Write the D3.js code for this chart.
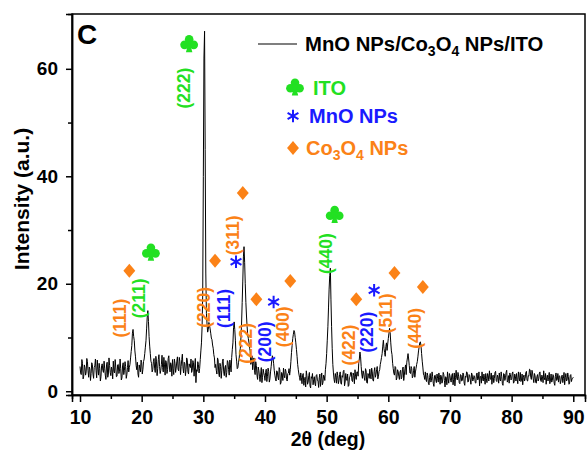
<!DOCTYPE html>
<html><head><meta charset="utf-8">
<script src="https://cdn.jsdelivr.net/npm/d3@7"></script>
<style>
html,body{margin:0;padding:0;background:#fff;}
svg{display:block;font-family:"Liberation Sans",Arial,sans-serif;font-weight:bold;}
</style></head>
<body><svg id="chart" width="588" height="451"></svg>
<script>
// ---- data ----
// readings at 10.0, 10.2, ... 90.0 (2θ, deg)
const twoThetaStart = 10, twoThetaStep = 0.2;
const intensity = [
4.6,3.1,5.2,2.8,4.4,3.6,5.5,2.6,4.1,3.3,
5.0,2.4,4.7,3.8,5.8,3.0,4.2,2.7,5.1,3.5,
4.3,2.2,5.4,3.2,4.8,2.9,4.0,5.6,3.4,4.5,
2.8,5.0,3.7,4.2,2.5,5.3,3.9,4.6,3.1,5.7,
4.4,6.2,8.5,11.5,9.4,6.4,4.0,3.2,4.9,3.6,
5.3,4.1,6.0,8.2,11.6,15.0,10.2,7.0,5.2,4.0,
6.1,3.5,5.6,4.2,6.8,3.3,5.0,4.4,6.3,3.0,
5.4,4.0,6.6,3.6,4.9,5.9,3.1,5.2,4.3,6.4,
3.8,5.5,4.6,6.9,3.4,5.1,4.0,5.8,3.2,4.7,
6.0,3.9,5.3,4.5,1.6,3.7,5.0,4.2,7.5,12.0,
40.0,67.0,22.0,12.5,11.5,12.3,10.8,9.6,8.0,6.2,
5.0,3.2,5.8,2.7,4.6,3.9,6.0,2.9,4.8,3.5,
5.4,3.0,4.7,6.3,9.0,12.9,9.5,5.6,4.4,6.0,
8.0,12.5,20.5,26.9,20.0,14.0,10.5,9.0,7.5,5.5,
4.0,6.2,3.1,4.8,2.2,3.9,1.8,4.4,2.6,3.4,
2.0,4.1,2.8,3.7,2.3,4.6,6.6,5.2,3.0,1.9,
3.6,2.1,4.0,1.6,3.2,4.3,2.5,3.7,1.9,3.4,
3.0,5.5,8.5,10.6,11.0,9.0,6.5,4.0,2.6,3.4,
1.4,3.3,2.0,0.8,2.9,1.7,3.5,0.6,2.4,1.2,
2.7,1.0,3.1,1.9,2.5,0.9,3.4,1.6,2.8,4.0,
7.0,12.0,19.0,22.9,12.0,5.0,2.2,3.3,1.5,2.9,
2.0,3.6,1.3,2.6,3.9,1.7,2.4,3.2,1.1,2.8,
3.5,1.8,2.9,4.0,2.2,3.6,5.2,7.3,4.6,2.4,
3.4,2.0,3.8,1.5,3.0,4.1,2.3,3.6,1.9,4.4,
3.1,4.6,2.8,4.0,5.6,7.0,9.5,7.2,8.3,7.6,
9.8,11.7,9.0,6.8,4.2,3.0,4.4,2.5,3.7,2.2,
3.9,2.6,4.5,3.0,4.9,5.4,7.0,4.8,3.3,4.2,
2.8,4.6,3.6,5.0,6.4,8.2,9.2,7.0,4.5,2.9,
3.6,1.8,2.9,1.2,3.3,2.0,2.7,0.9,3.0,1.6,
2.4,3.4,1.3,2.8,1.9,3.1,0.8,2.5,3.6,1.5,
2.9,1.7,3.3,2.2,1.0,3.9,2.1,2.8,1.4,3.0,
2.0,3.2,1.1,2.6,3.5,1.8,2.9,1.3,3.1,2.2,
2.7,1.5,3.4,2.3,1.0,2.8,3.6,1.9,2.5,3.3,
1.6,2.9,3.8,2.2,1.3,3.0,2.4,3.7,1.8,2.6,
3.4,1.9,2.7,1.1,3.2,2.5,3.9,2.0,1.5,3.1,
2.3,3.6,1.7,2.8,3.3,1.4,2.6,3.5,2.0,1.2,
3.0,2.4,3.7,1.9,2.8,4.0,2.2,3.4,1.6,2.9,
1.5,3.1,2.3,3.6,1.8,2.7,3.8,2.1,1.3,3.0,
2.6,1.4,3.2,2.0,2.9,1.1,3.4,2.2,1.7,2.8,
1.9,3.0,2.4,1.2,3.3,2.1,2.7,1.5,3.1,2.3,
2.6
];
// readings at 10.1, 10.3, ... 89.9 (2θ, deg)
const intensityOffset = 0.1;
const intensityMid = [
3.4,5.9,2.3,4.9,3.0,6.1,3.8,4.5,2.0,5.3,
3.2,4.4,6.0,2.5,4.1,5.2,1.9,4.8,3.9,5.6,
3.0,4.9,2.6,6.2,3.5,4.5,2.3,3.7,5.9,2.7,
4.9,3.3,6.0,2.1,4.7,3.1,5.5,2.4,4.4,3.6,
5.0,7.4,10.8,10.2,7.5,4.8,5.4,2.6,4.2,5.8,
3.2,5.5,7.0,9.4,13.8,13.0,8.4,5.6,3.6,5.5,
4.3,6.5,2.9,5.9,4.6,3.9,6.7,3.6,4.9,5.7,
3.3,6.1,4.5,5.3,2.8,4.2,6.0,3.5,5.6,4.1,
6.3,3.1,5.9,4.3,5.4,2.9,6.2,3.6,5.1,4.4,
3.5,5.7,2.8,6.1,4.0,5.5,3.4,5.9,9.0,18.0,
62.0,45.0,14.5,11.0,12.8,11.6,9.9,8.6,6.8,4.4,
3.9,6.2,3.4,5.2,2.4,5.5,3.6,4.4,2.6,5.7,
4.0,5.8,3.6,7.8,11.8,11.5,6.8,4.2,5.3,7.2,
10.0,16.5,25.0,24.0,16.5,12.0,9.8,8.0,5.0,6.6,
5.2,3.8,5.5,3.0,4.5,2.8,3.2,1.6,4.1,2.9,
3.5,1.8,4.3,1.7,3.6,5.8,6.2,3.9,2.3,3.8,
2.6,4.4,1.3,3.5,2.0,3.0,4.1,2.2,3.3,4.2,
4.0,7.2,9.8,11.3,10.0,7.8,5.0,3.2,2.0,2.5,
3.0,1.1,2.6,3.8,1.3,2.9,1.0,2.7,3.3,2.2,
1.4,2.9,2.1,0.7,3.2,2.3,1.2,3.0,2.0,5.2,
9.5,15.5,21.5,17.0,8.0,3.4,1.6,2.6,3.6,1.4,
3.1,1.5,2.9,3.7,1.0,3.3,2.0,0.9,2.6,3.5,
2.0,3.4,1.4,2.7,3.6,2.8,6.0,6.4,3.2,3.8,
2.5,4.2,1.6,3.3,2.4,2.8,4.3,2.0,3.7,2.6,
4.0,2.3,3.7,5.0,6.3,8.4,8.0,6.5,9.0,8.8,
10.8,10.9,7.5,5.2,3.3,4.6,2.1,4.0,2.8,3.6,
2.3,4.1,2.0,4.2,3.1,6.2,6.0,3.4,4.6,2.5,
3.9,2.6,4.3,5.5,7.5,9.0,8.5,5.6,3.2,2.2,
2.2,3.4,1.5,2.6,1.7,3.6,1.4,2.9,2.1,3.2,
1.7,2.6,3.0,1.5,3.5,2.0,2.7,1.2,2.3,3.3,
2.0,3.0,1.2,3.4,2.6,2.4,3.5,1.6,3.1,1.9,
3.4,1.5,2.8,3.6,1.7,3.1,2.1,3.4,1.9,2.9,
1.6,3.2,2.1,3.6,2.7,1.5,2.3,3.2,1.3,2.4,
3.3,1.9,2.4,3.4,2.6,1.6,3.5,2.0,3.0,1.5,
2.2,3.6,1.4,3.3,2.0,3.5,1.7,2.9,3.4,2.1,
3.4,1.5,3.2,1.9,2.2,3.6,1.9,1.8,3.2,2.6,
1.9,3.5,2.0,2.9,4.1,2.6,3.9,2.3,3.3,1.7,
2.7,1.9,3.4,2.0,3.0,1.6,2.5,3.3,2.5,1.9,
3.5,2.1,1.7,3.1,1.5,2.8,2.0,3.3,2.9,1.4,
2.8,1.6,3.5,2.5,1.9,3.4,1.3,2.9,1.8,2.4
];

const xTicks = [10,20,30,40,50,60,70,80,90];
const xMinorTicks = [15,25,35,45,55,65,75,85];
const yTicks = [0,20,40,60];
const yMinorTicks = [10,30,50];

// phase markers (2θ, intensity position)
const itoMarkX = [21.5, 27.7, 51.3];
const itoMarkY = [25.9, 64.7, 32.9];
const mnoMarkX = [35.3, 41.4, 57.7];
const mnoMarkY = [24.1, 16.6, 18.8];
const coMarkX = [18.0, 31.9, 36.4, 38.6, 44.1, 54.8, 61.0, 65.6];
const coMarkY = [22.4, 24.3, 36.9, 17.1, 20.5, 17.1, 22.0, 19.4];

// Miller index labels
const hklText  = ["(111)","(211)","(222)","(220)","(111)","(311)","(222)","(200)","(400)","(440)","(422)","(220)","(511)","(440)"];
const hklPhase = ["Co","ITO","ITO","Co","MnO","Co","Co","MnO","Co","ITO","Co","MnO","Co","Co"];
const hklX     = [16.5, 19.6, 26.9, 30.1, 33.3, 34.8, 36.9, 40.0, 42.9, 49.9, 53.6, 56.6, 59.6, 64.4];
const hklY     = [13.6, 17.3, 56.4, 15.6, 15.4, 29.0, 8.9, 9.2, 12.0, 25.6, 8.6, 11.0, 14.5, 11.7];

const phaseColor = {ITO:"#22e022", MnO:"#1a1aff", Co:"#fb8217"};

// ---- chart ----
const svg = d3.select("#chart");
const L = 72, R = 585, T = 14, B = 395;
const x = d3.scaleLinear().domain([8.7, 91.9]).range([L, R]);
const y = d3.scaleLinear().domain([-0.7, 70.2]).range([B, T]);

const data = [];
intensity.forEach((v,i)=>{
  data.push({t: twoThetaStart + i*twoThetaStep, v});
  if (i < intensityMid.length) data.push({t: twoThetaStart + i*twoThetaStep + intensityOffset, v: intensityMid[i]});
});

// trace
svg.append("path").datum(data)
  .attr("fill","none").attr("stroke","#000").attr("stroke-width",1)
  .attr("d", d3.line().x(d=>x(d.t)).y(d=>y(d.v)));

// frame
svg.append("rect").attr("x",L).attr("y",T).attr("width",R-L).attr("height",B-T)
  .attr("fill","none").attr("stroke","#000").attr("stroke-width",1.5);

// axes
const xAxis = svg.append("g").attr("transform",`translate(0,${B})`)
  .call(d3.axisBottom(x).tickValues(xTicks).tickSize(7).tickPadding(8).tickFormat(d3.format("d")));
const xMin = svg.append("g").attr("transform",`translate(0,${B})`)
  .call(d3.axisBottom(x).tickValues(xMinorTicks).tickSize(4).tickFormat(""));
const yAxis = svg.append("g").attr("transform",`translate(${L},0)`)
  .call(d3.axisLeft(y).tickValues(yTicks).tickSize(6).tickPadding(8).tickFormat(d3.format("d")));
const yMin = svg.append("g").attr("transform",`translate(${L},0)`)
  .call(d3.axisLeft(y).tickValues(yMinorTicks).tickSize(4).tickFormat(""));
[xAxis,xMin,yAxis,yMin].forEach(g=>{
  g.select(".domain").attr("stroke","#000").attr("stroke-width",1.5);
  g.selectAll(".tick line").attr("stroke","#000").attr("stroke-width",1.5);
  g.selectAll(".tick text").attr("fill","#000").attr("font-family","Liberation Sans, Arial, sans-serif").attr("font-weight","bold");
});
xAxis.selectAll(".tick text").attr("font-size",19.5);
yAxis.selectAll(".tick text").attr("font-size",19);

// axis titles
svg.append("text").attr("x",328).attr("y",446).attr("text-anchor","middle")
  .attr("font-size",19.5).text("2θ (deg)");
svg.append("text").attr("transform","translate(29,199) rotate(-90)").attr("text-anchor","middle")
  .attr("font-size",21).text("Intensity (a.u.)");
svg.append("text").attr("x",77).attr("y",44).attr("font-size",28).text("C");

// marker drawers
const diamondType = { draw(ctx, size){ const h=Math.sqrt(size)/2; ctx.moveTo(0,-h); ctx.lineTo(h*0.85,0); ctx.lineTo(0,h); ctx.lineTo(-h*0.85,0); ctx.closePath(); } };
function drawDiamond(g, cx, cy){
  g.append("path").attr("transform",`translate(${cx},${cy})`)
   .attr("d", d3.symbol().type(diamondType).size(196)()).attr("fill",phaseColor.Co);
}
function drawAsterisk(g, cx, cy){
  g.append("path").attr("transform",`translate(${cx},${cy})`)
   .attr("d", d3.symbol().type(d3.symbolAsterisk).size(110)())
   .attr("fill","none").attr("stroke",phaseColor.MnO).attr("stroke-width",2);
}
function drawClub(g, cx, cy){
  const c = g.append("g").attr("transform",`translate(${cx},${cy})`).attr("fill",phaseColor.ITO);
  [[0,-4.3],[-4.6,1.3],[4.6,1.3],[0,0]].forEach(p=>c.append("circle").attr("cx",p[0]).attr("cy",p[1]).attr("r",p[0]===0&&p[1]===0?2.8:4.3));
  c.append("path").attr("d","M-0.9,0 L0.9,0 L3.2,8.6 L-3.2,8.6 Z");
}

const marks = svg.append("g");
itoMarkX.forEach((t,i)=>drawClub(marks, x(t), y(itoMarkY[i])));
mnoMarkX.forEach((t,i)=>drawAsterisk(marks, x(t), y(mnoMarkY[i])));
coMarkX.forEach((t,i)=>drawDiamond(marks, x(t), y(coMarkY[i])));

// hkl labels
hklText.forEach((s,i)=>{
  svg.append("text").attr("transform",`translate(${x(hklX[i])},${y(hklY[i])}) rotate(-90)`)
    .attr("text-anchor","middle").attr("dominant-baseline","central")
    .attr("font-size",17.5).attr("fill",phaseColor[hklPhase[i]]).text(s);
});

// legend
const lg = svg.append("g");
lg.append("line").attr("x1",258).attr("x2",297).attr("y1",44).attr("y2",44).attr("stroke","#000").attr("stroke-width",1.2);
const t1 = lg.append("text").attr("x",305).attr("y",51).attr("font-size",20.3).attr("fill","#000");
t1.append("tspan").text("MnO NPs/Co");
t1.append("tspan").attr("dy",5).attr("font-size",14).text("3");
t1.append("tspan").attr("dy",-5).text("O");
t1.append("tspan").attr("dy",5).attr("font-size",14).text("4");
t1.append("tspan").attr("dy",-5).text(" NPs/ITO");

drawClub(lg, 295, 87);
lg.append("text").attr("x",313).attr("y",95).attr("font-size",20).attr("fill",phaseColor.ITO).text("ITO");
drawAsterisk(lg, 293, 116);
lg.append("text").attr("x",309).attr("y",123).attr("font-size",20).attr("fill",phaseColor.MnO).text("MnO NPs");
drawDiamond(lg, 293, 148);
const t3 = lg.append("text").attr("x",306).attr("y",155).attr("font-size",20).attr("fill",phaseColor.Co);
t3.append("tspan").text("Co");
t3.append("tspan").attr("dy",5).attr("font-size",14).text("3");
t3.append("tspan").attr("dy",-5).text("O");
t3.append("tspan").attr("dy",5).attr("font-size",14).text("4");
t3.append("tspan").attr("dy",-5).text(" NPs");
</script>
</body></html>
